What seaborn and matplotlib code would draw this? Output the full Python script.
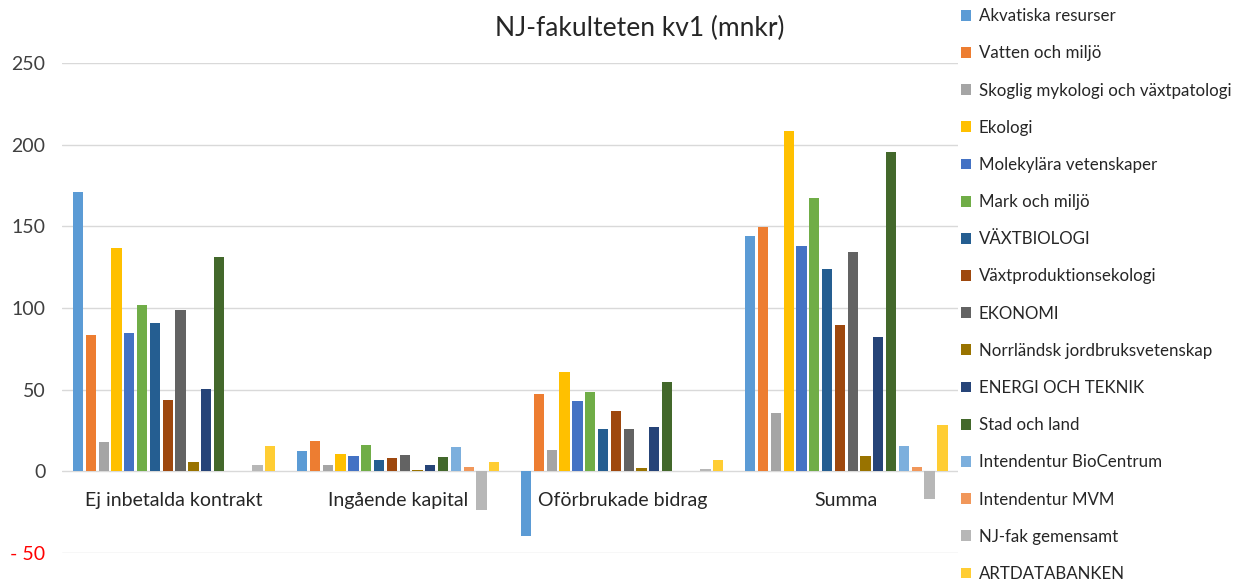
import pandas as pd
import matplotlib.pyplot as plt
import seaborn as sns
from matplotlib.patches import Patch

# categories and departments
categories = ["Ej inbetalda kontrakt", "Ingående kapital", "Oförbrukade bidrag", "Summa"]
departments = [
    "Akvatiska resurser", "Vatten och miljö", "Skoglig mykologi och växtpatologi",
    "Ekologi", "Molekylära vetenskaper", "Mark och miljö", "VÄXTBIOLOGI",
    "Växtproduktionsekologi", "EKONOMI", "Norrländsk jordbruksvetenskap",
    "ENERGI OCH TEKNIK", "Stad och land", "Intendentur BioCentrum",
    "Intendentur MVM", "NJ-fak gemensamt", "ARTDATABANKEN",
]

# values per category (mnkr), one per department
ej_inbetalda = [171, 83.6, 18.2, 137, 84.8, 102, 91, 43.7, 98.5, 5.8, 50.7, 131.5, 0, 0, 4.1, 15.7]
ingaende = [12.3, 18.4, 3.7, 10.4, 9.2, 15.9, 6.7, 8.0, 9.8, 0.8, 3.7, 8.6, 14.7, 2.5, -23.5, 5.5]
oforbrukade = [-39.8, 47.6, 13.3, 61, 43.1, 48.6, 26.2, 37, 25.8, 2.0, 27, 54.8, 0, 0, 1.4, 7.2]
summa = [143.8, 149.5, 35.4, 208.3, 137.9, 167.5, 124, 89.3, 134, 9.2, 82, 195.5, 15.3, 2.5, -17, 28.6]

colors = ["#5B9BD5", "#ED7D31", "#A5A5A5", "#FFC000", "#4472C4", "#70AD47", "#255E91",
          "#9E480E", "#636363", "#997300", "#264478", "#43682B", "#7CAFDD", "#F1975A",
          "#B7B7B7", "#FFCD33"]

ytick_vals = [-50, 0, 50, 100, 150, 200, 250]
ytick_labels = ["- 50", "0", "50", "100", "150", "200", "250"]

rows = []
for cat, vals in zip(categories, [ej_inbetalda, ingaende, oforbrukade, summa]):
    for dep, v in zip(departments, vals):
        rows.append({"kategori": cat, "avdelning": dep, "mnkr": v})
df = pd.DataFrame(rows)

sns.set_style("white")
plt.rcParams["font.family"] = ["Lato", "DejaVu Sans"]

fig = plt.figure(figsize=(12.43, 5.88), dpi=100)
ax = fig.add_axes([0.05, 0.0595, 0.721, 0.8335])

sns.barplot(data=df, x="kategori", y="mnkr", hue="avdelning", hue_order=departments,
            order=categories, palette=colors, width=0.915, gap=0.2, ax=ax,
            legend=False, saturation=1, linewidth=0)

ax.set_ylim(-50, 250)
ax.set_xlim(-0.5, 3.5)
ax.set_yticks(ytick_vals)
ax.set_yticklabels(ytick_labels, fontsize=14, color="#404040")
for lbl in ax.get_yticklabels():
    if lbl.get_text().startswith("-"):
        lbl.set_color("red")
ax.tick_params(axis="y", length=0, pad=12)
ax.set_xticks([])
ax.set_xlabel("")
ax.set_ylabel("")
ax.grid(axis="y", color="#D9D9D9", linewidth=1)
ax.set_axisbelow(True)
for s in ax.spines.values():
    s.set_visible(False)

# category labels sit inside the plot, just below zero
for i, cat in enumerate(categories):
    ax.text(i, -18, cat, ha="center", va="center", fontsize=14, color="#262626")

fig.text(0.515, 0.952, "NJ-fakulteten kv1 (mnkr)", ha="center", va="center",
         fontsize=19, color="#262626")

handles = [Patch(facecolor=c, edgecolor="none") for c in colors]
fig.legend(handles, departments, loc="upper left", bbox_to_anchor=(0.761, 1.012),
           frameon=False, fontsize=12.2, labelspacing=1.25, handlelength=0.6,
           handleheight=0.6, handletextpad=0.45, labelcolor="#262626")

fig.savefig("out.png", dpi=100)
